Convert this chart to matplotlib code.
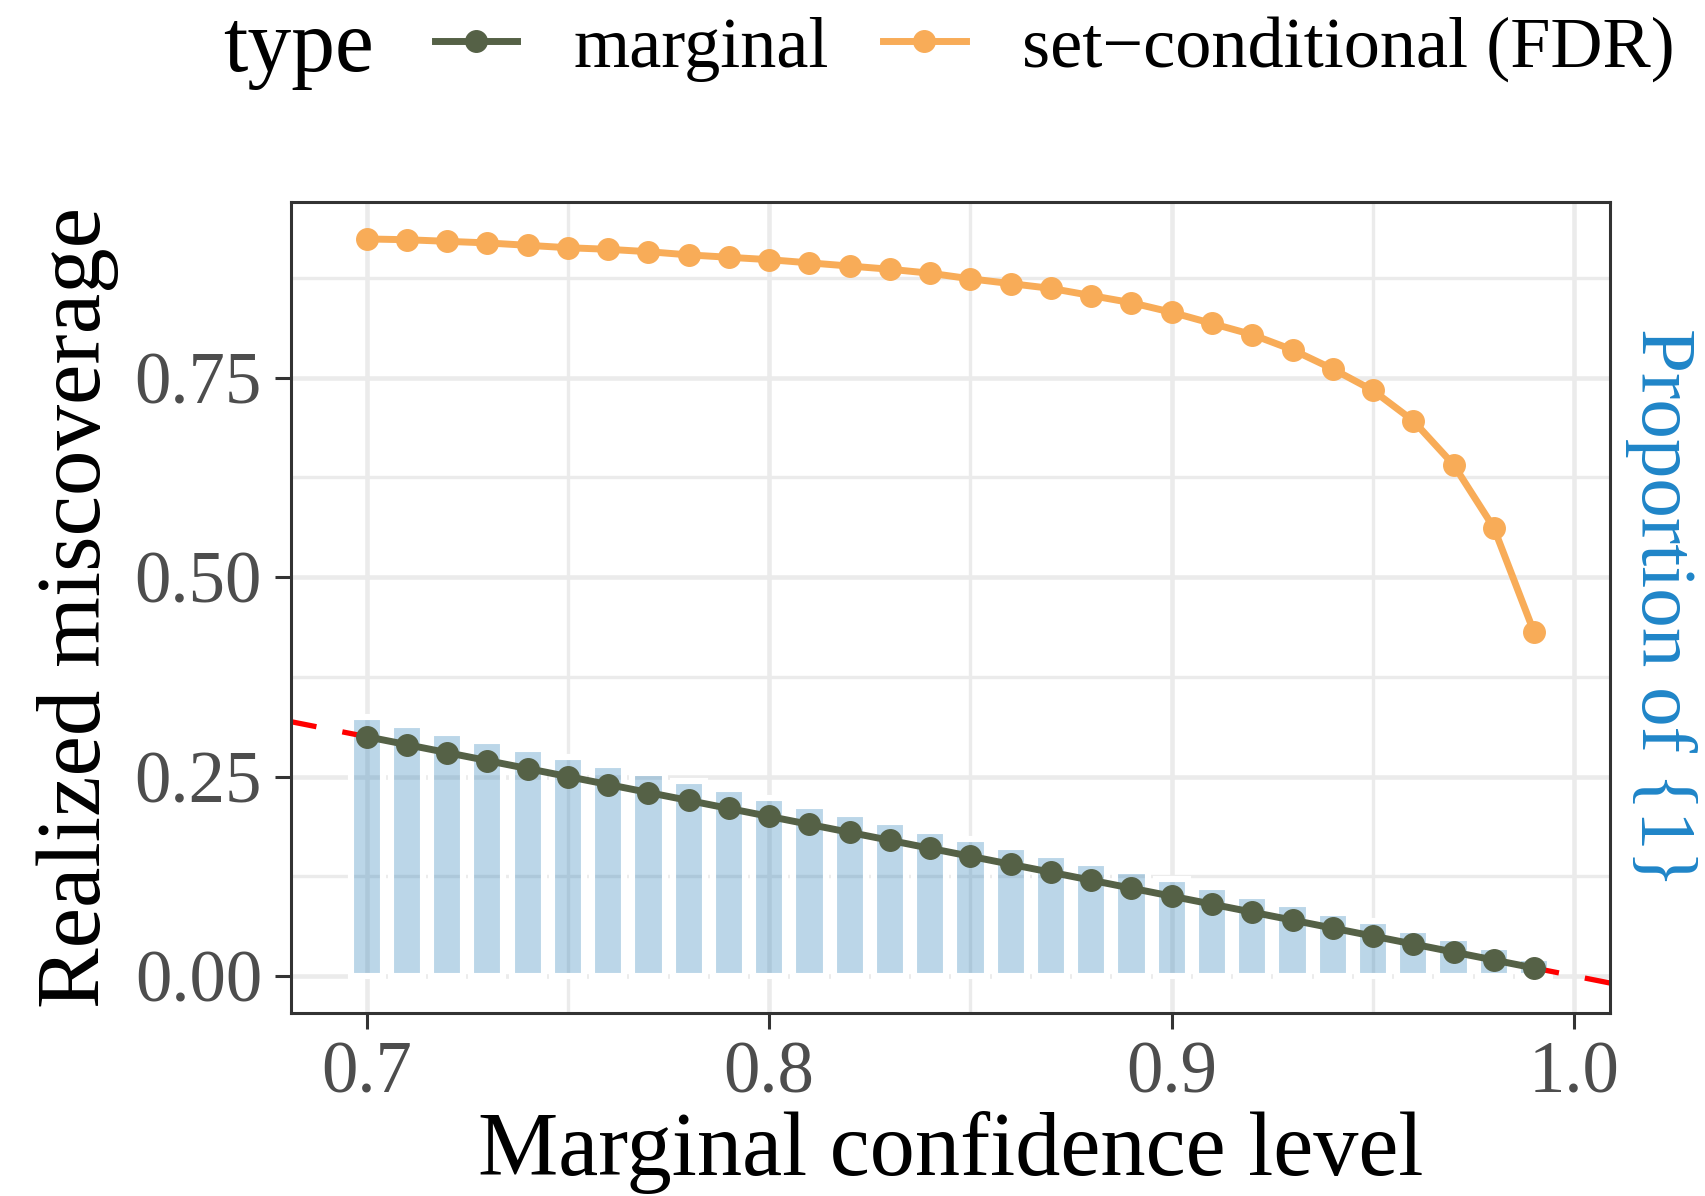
import matplotlib
matplotlib.use("Agg")
from matplotlib import pyplot as plt
from matplotlib.lines import Line2D
import numpy as np

# confidence levels on the x axis
levels = [0.70, 0.71, 0.72, 0.73, 0.74, 0.75, 0.76, 0.77, 0.78, 0.79,
          0.80, 0.81, 0.82, 0.83, 0.84, 0.85, 0.86, 0.87, 0.88, 0.89,
          0.90, 0.91, 0.92, 0.93, 0.94, 0.95, 0.96, 0.97, 0.98, 0.99]

marginal = [0.30, 0.29, 0.28, 0.27, 0.26, 0.25, 0.24, 0.23, 0.22, 0.21,
            0.20, 0.19, 0.18, 0.17, 0.16, 0.15, 0.14, 0.13, 0.12, 0.11,
            0.10, 0.09, 0.08, 0.07, 0.06, 0.05, 0.04, 0.03, 0.02, 0.01]

set_conditional = [0.924, 0.923, 0.921, 0.919, 0.916, 0.913, 0.911, 0.908, 0.904, 0.901,
                   0.898, 0.894, 0.890, 0.886, 0.881, 0.874, 0.868, 0.862, 0.853, 0.844,
                   0.832, 0.818, 0.804, 0.785, 0.761, 0.734, 0.696, 0.641, 0.562, 0.431]

# proportion of {1}, drawn on the same scale as the left axis
prop_one = [0.325, 0.315, 0.305, 0.295, 0.285, 0.274, 0.264, 0.254, 0.244, 0.234,
            0.223, 0.213, 0.203, 0.193, 0.182, 0.172, 0.162, 0.152, 0.142, 0.132,
            0.121, 0.111, 0.100, 0.090, 0.079, 0.069, 0.058, 0.047, 0.036, 0.022]

x_ticks = [0.7, 0.8, 0.9, 1.0]
x_ticklabels = ["0.7", "0.8", "0.9", "1.0"]
y_ticks = [0.0, 0.25, 0.5, 0.75]
y_ticklabels = ["0.00", "0.25", "0.50", "0.75"]

green = "#556146"
orange = "#F8AC58"
blue = "#1F85C8"

plt.rcParams['font.family'] = ['Liberation Serif', 'DejaVu Serif']

fig = plt.figure(figsize=(17.06, 11.96), dpi=100)
ax = fig.add_axes([0.1703, 0.1533, 0.7735, 0.6776])

# grid (theme_bw style)
ax.set_xticks([0.75, 0.85, 0.95], minor=True)
ax.set_yticks([0.125, 0.375, 0.625, 0.875], minor=True)
ax.grid(True, which="major", color="#EBEBEB", linewidth=3.3)
ax.grid(True, which="minor", color="#EBEBEB", linewidth=2.4)
ax.set_axisbelow(True)

ax.bar(levels, prop_one, width=0.008, facecolor=(0.12, 0.47, 0.71, 0.3),
       edgecolor="white", linewidth=4.4, zorder=1.5)

ax.set_xlim(0.6811, 1.0089)
ax.set_ylim(-0.046, 0.970)

xl = np.array(ax.get_xlim())
ax.plot(xl, 1 - xl, color="red", linewidth=3.8, dashes=(5, 5), zorder=2)

lw = 5.0
ms = 15.5
ax.plot(levels, marginal, color=green, linewidth=lw, marker="o",
        markersize=ms, zorder=3)
ax.plot(levels, set_conditional, color=orange, linewidth=lw, marker="o",
        markersize=ms, zorder=3)

ax.set_xticks(x_ticks)
ax.set_xticklabels(x_ticklabels)
ax.set_yticks(y_ticks)
ax.set_yticklabels(y_ticklabels)
ax.tick_params(which="major", length=11.5, width=2.2, color="#333333",
               labelsize=52.5, labelcolor="#4D4D4D", pad=9)
ax.tick_params(which="minor", length=0)
for sp in ax.spines.values():
    sp.set_color("#333333")
    sp.set_linewidth(2.2)

fig.text(0.5 * (0.1703 + 0.9438), 1 - 1152 / 1196, "Marginal confidence level",
         ha="center", va="center", fontsize=65)
fig.text(78 / 1706, 0.1533 + 0.6776 / 2, "Realized miscoverage",
         ha="center", va="center", rotation=90, fontsize=65.5)
fig.text(1661 / 1706, 0.1533 + 0.6776 / 2, "Proportion of {1}",
         ha="center", va="center", rotation=270, fontsize=57, color=blue)

# legend on top
fig.text(223 / 1706, 1 - 49 / 1196, "type", ha="left", va="center", fontsize=63)
handles = [Line2D([], [], color=green, linewidth=lw, marker="o", markersize=ms),
           Line2D([], [], color=orange, linewidth=lw, marker="o", markersize=ms)]
fig.legend(handles, ["marginal", "set\u2212conditional (FDR)"], ncol=2,
           loc="center left", bbox_to_anchor=(435 / 1706, 1 - 49 / 1196),
           frameon=False, fontsize=52, handlelength=1.14, handletextpad=0.78,
           columnspacing=0.75, borderpad=0, borderaxespad=0)

fig.savefig("out.png", dpi=100)
